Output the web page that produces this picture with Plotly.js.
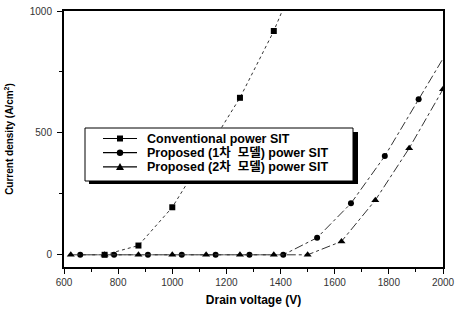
<!DOCTYPE html>
<html>
<head>
<meta charset="utf-8">
<script src="https://cdn.plot.ly/plotly-3.0.1.min.js"></script>
<style>
html,body{margin:0;padding:0;background:#fff;}
#chart{width:455px;height:313px;}
</style>
</head>
<body>
<div id="chart"></div>
<script>
// Data
const seriesNames = [
  "Conventional power SIT",
  "Proposed (1차  모델) power SIT",
  "Proposed (2차  모델) power SIT"
];
const seriesSymbols = ["square", "circle", "triangle-up"];
const convV = [750, 875, 1000, 1250, 1375, 1500];
const convJ = [0, 38, 195, 644, 918, 1250];
const prop1V = [660, 785, 910, 1035, 1160, 1285, 1410, 1535, 1660, 1785, 1910, 2035];
const prop1J = [0, 0, 0, 0, 0, 0, 0, 70, 211, 405, 638, 870];
const prop2V = [625, 750, 875, 1000, 1125, 1250, 1375, 1500, 1625, 1750, 1875, 2000];
const prop2J = [0, 0, 0, 0, 0, 0, 0, 0, 55, 224, 437, 679];
const xTickVals = [600, 800, 1000, 1200, 1400, 1600, 1800, 2000];
const xTickText = ["600", "800", "1000", "1200", "1400", "1600", "1800", "2000"];
const yTickVals = [0, 500, 1000];
const yTickText = ["0", "500", "1000"];

const font = "Liberation Sans, Arial, 'Noto Sans CJK KR', sans-serif";

const W = 455, H = 313;
const M = {l: 64, r: 12, t: 11, b: 46};
const PW = W - M.l - M.r, PH = H - M.t - M.b;
const px = v => (v - M.l) / PW;          // pixel x -> paper x
const py = v => (H - M.b - v) / PH;      // pixel y -> paper y

const traces = [
  {x: convV, y: convJ, name: seriesNames[0], mode: "lines+markers",
   line: {color: "#333", width: 1, dash: "dot"},
   marker: {symbol: seriesSymbols[0], size: 6, color: "#000"}},
  {x: prop1V, y: prop1J, name: seriesNames[1], mode: "lines+markers",
   line: {color: "#333", width: 1, dash: "dashdot"},
   marker: {symbol: seriesSymbols[1], size: 6, color: "#000"}},
  {x: prop2V, y: prop2J, name: seriesNames[2], mode: "lines+markers",
   line: {color: "#333", width: 1, dash: "dashdot"},
   marker: {symbol: seriesSymbols[2], size: 7, color: "#000"}}
];

// Legend drawn as a boxed key (box with heavy drop shadow, like the reference)
const legBox = {x0: 85, x1: 353, y0: 128, y1: 181};
const rowY = [138.5, 152.7, 166.9];
const symX0 = 103, symX1 = 137, symXc = 120, textX = 145;

const shapes = [
  {type: "rect", xref: "paper", yref: "paper",
   x0: px(legBox.x0 + 4), x1: px(legBox.x1 + 5), y0: py(legBox.y0 + 4), y1: py(legBox.y1 + 3),
   fillcolor: "#000", line: {width: 0}, layer: "above"},
  {type: "rect", xref: "paper", yref: "paper",
   x0: px(legBox.x0), x1: px(legBox.x1), y0: py(legBox.y0), y1: py(legBox.y1),
   fillcolor: "#fff", line: {width: 1, color: "#000"}, layer: "above"}
];
const annotations = [];
seriesNames.forEach((name, i) => {
  const y = rowY[i];
  shapes.push({type: "line", xref: "paper", yref: "paper",
    x0: px(symX0), x1: px(symX1), y0: py(y), y1: py(y),
    line: {color: "#000", width: 1.2}, layer: "above"});
  const s = seriesSymbols[i];
  if (s === "square") {
    shapes.push({type: "rect", xref: "paper", yref: "paper",
      x0: px(symXc - 3), x1: px(symXc + 3), y0: py(y - 3), y1: py(y + 3),
      fillcolor: "#000", line: {width: 0}, layer: "above"});
  } else if (s === "circle") {
    shapes.push({type: "circle", xref: "paper", yref: "paper",
      x0: px(symXc - 3.2), x1: px(symXc + 3.2), y0: py(y - 3.2), y1: py(y + 3.2),
      fillcolor: "#000", line: {width: 0}, layer: "above"});
  } else {
    shapes.push({type: "path", xref: "paper", yref: "paper",
      path: `M${px(symXc - 4)},${py(y + 3)} L${px(symXc + 4)},${py(y + 3)} L${px(symXc)},${py(y - 4)} Z`,
      fillcolor: "#000", line: {width: 0}, layer: "above"});
  }
  annotations.push({xref: "paper", yref: "paper", x: px(textX), y: py(y),
    xanchor: "left", yanchor: "middle", showarrow: false, text: name,
    font: {family: font, size: 12.5, color: "#000", weight: "bold"}});
});

const layout = {
  width: W, height: H,
  margin: M,
  paper_bgcolor: "#fff", plot_bgcolor: "#fff",
  font: {family: font, color: "#222", size: 10},
  showlegend: false,
  xaxis: {
    range: [600, 2000], tickvals: xTickVals, ticktext: xTickText,
    ticks: "outside", ticklen: 5, tickcolor: "#000", tickwidth: 1,
    minor: {dtick: 100, ticks: "outside", ticklen: 3, tickcolor: "#000"},
    showline: true, linecolor: "#000", linewidth: 2, mirror: true,
    showgrid: false, zeroline: false,
    tickfont: {size: 10, color: "#333"},
    title: {text: "Drain voltage (V)", font: {size: 12, color: "#000", weight: "bold"}, standoff: 9}
  },
  yaxis: {
    range: [-50, 1000], tickvals: yTickVals, ticktext: yTickText,
    ticks: "outside", ticklen: 5, tickcolor: "#000", tickwidth: 1,
    minor: {dtick: 250, ticks: "outside", ticklen: 3, tickcolor: "#000"},
    showline: true, linecolor: "#000", linewidth: 2, mirror: true,
    showgrid: false, zeroline: false,
    ticklabelstandoff: 3,
    tickfont: {size: 10, color: "#333"},
    title: {text: "Current density (A/cm<sup>2</sup>)", font: {size: 10, color: "#000", weight: "bold"}, standoff: 14}
  },
  shapes: shapes,
  annotations: annotations
};

Plotly.newPlot("chart", traces, layout, {displayModeBar: false, staticPlot: true});
</script>
</body>
</html>
